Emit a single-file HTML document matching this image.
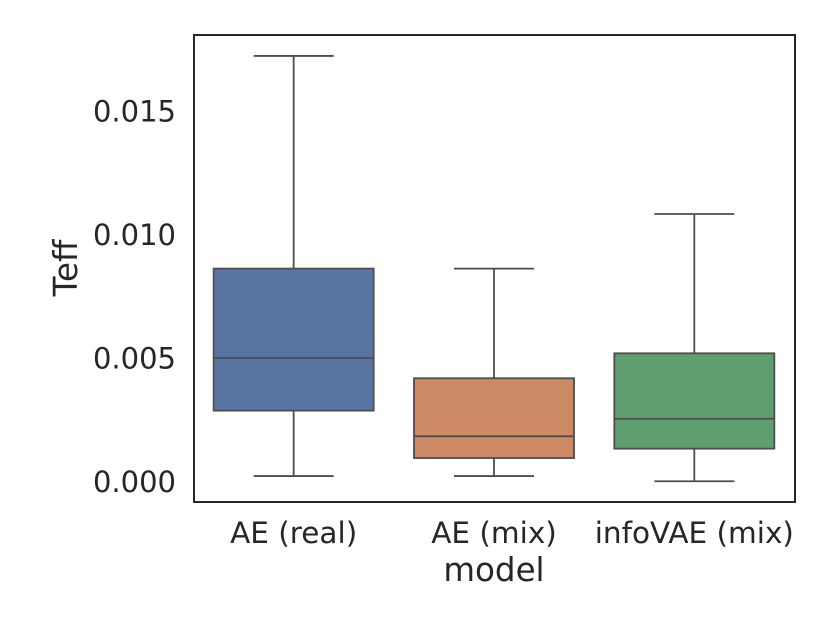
<!DOCTYPE html>
<html><head><meta charset="utf-8"><style>
html,body{margin:0;padding:0;background:#fff;width:830px;height:623px;overflow:hidden}
svg text{font-family:"DejaVu Sans","Liberation Sans",sans-serif;fill:#262626}
</style></head><body>
<svg id="chart" width="830" height="623" xmlns="http://www.w3.org/2000/svg"></svg>
<script>
const categories = ["AE (real)", "AE (mix)", "infoVAE (mix)"];
const whiskerLow = [0.00024, 0.00024, 0.00003];
const q1 = [0.00289, 0.00097, 0.00135];
const medians = [0.00502, 0.00185, 0.00256];
const q3 = [0.00864, 0.0042, 0.00521];
const whiskerHigh = [0.01725, 0.00864, 0.01085];
const yTicks = [0, 0.005, 0.010, 0.015];
const yTickLabels = ["0.000", "0.005", "0.010", "0.015"];
const colors = ["#5875a4", "#cc8963", "#5f9e6e"];

const NS = "http://www.w3.org/2000/svg";
const svg = document.getElementById('chart');
const L = 194, R = 795, T = 35, B = 502;
const y0 = 482, pxPerUnit = 24700;
function yScale(v){ return y0 - v * pxPerUnit; }
function xScale(i){ return L + (R - L) * (i + 0.5) / categories.length - 0.5; }
function mk(tag, attrs, parent){
  const e = document.createElementNS(NS, tag);
  for (const k in attrs) e.setAttribute(k, attrs[k]);
  (parent || svg).appendChild(e);
  return e;
}
const bw = 160, cap = 80, lc = "#4d4d4d";
categories.forEach((c, i) => {
  const g = mk('g', {});
  
  
  const cx = xScale(i);
  const w1 = mk('line', {x1:cx, x2:cx, y1:yScale(whiskerHigh[i]), y2:yScale(q3[i]), stroke:lc, 'stroke-width':1.8}, g);
  
  
  const w2 = mk('line', {x1:cx, x2:cx, y1:yScale(q1[i]), y2:yScale(whiskerLow[i]), stroke:lc, 'stroke-width':1.8}, g);
  
  
  const c1 = mk('line', {x1:cx-cap/2, x2:cx+cap/2, y1:yScale(whiskerHigh[i]), y2:yScale(whiskerHigh[i]), stroke:lc, 'stroke-width':1.8}, g);
  
  
  const c2 = mk('line', {x1:cx-cap/2, x2:cx+cap/2, y1:yScale(whiskerLow[i]), y2:yScale(whiskerLow[i]), stroke:lc, 'stroke-width':1.8}, g);
  
  
  const r = mk('rect', {x:cx-bw/2, y:yScale(q3[i]), width:bw, height:yScale(q1[i])-yScale(q3[i]), fill:colors[i], stroke:lc, 'stroke-width':1.8}, g);
  
  
  const m = mk('line', {x1:cx-bw/2, x2:cx+bw/2, y1:yScale(medians[i]), y2:yScale(medians[i]), stroke:lc, 'stroke-width':1.8}, g);
  
  
  const t = mk('text', {x:cx, y:543, 'text-anchor':'middle', 'font-size':29.5});
  t.textContent = c;
  
  
});
yTicks.forEach((v, i) => {
  const t = mk('text', {x:176, y:yScale(v)+10, 'text-anchor':'end', 'font-size':29});
  t.textContent = yTickLabels[i];
  
  
});
const frame = mk('rect', {x:L, y:T, width:R-L, height:B-T, fill:'none', stroke:'#262626', 'stroke-width':2});


const xt = mk('text', {x:494, y:581, 'text-anchor':'middle', 'font-size':32.5});
xt.textContent = 'model';


const yt = mk('text', {x:0, y:0, 'text-anchor':'middle', 'font-size':32.5, transform:'translate(77,268) rotate(-90)'});
yt.textContent = 'Teff';


</script>
</body></html>
